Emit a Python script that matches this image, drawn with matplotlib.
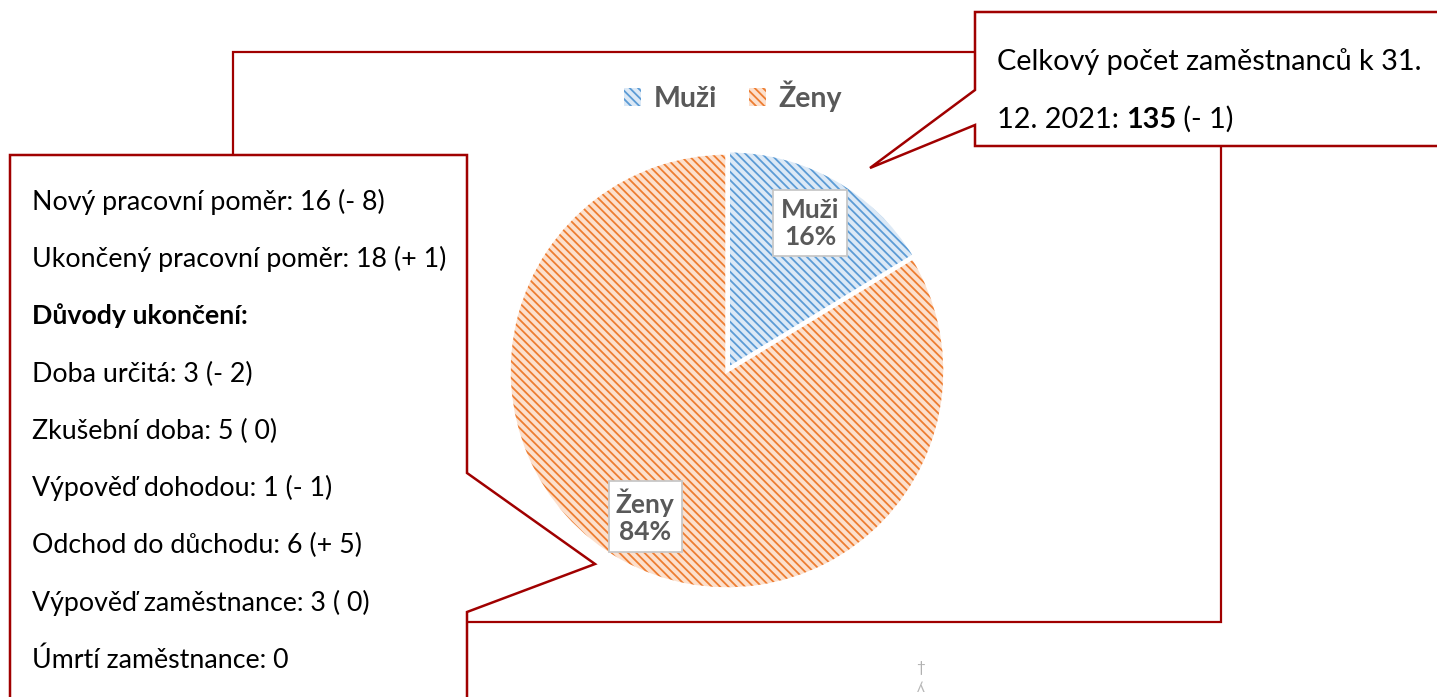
import matplotlib
matplotlib.use('Agg')
import matplotlib.pyplot as plt
from matplotlib.patches import Polygon, Patch, Rectangle
import numpy as np

# ---------------- data ----------------
categories = ['Muži', 'Ženy']
values = [22, 113]
fill_colors = ['#DCE9F6', '#FCE0CD']
hatch_colors = ['#5B9BD5', '#ED7D31']

left_lines = ['Nový pracovní poměr: 16 (- 8)',
              'Ukončený pracovní poměr: 18 (+ 1)',
              'Důvody ukončení:',
              'Doba určitá: 3 (- 2)',
              'Zkušební doba: 5 ( 0)',
              'Výpověď dohodou: 1 (- 1)',
              'Odchod do důchodu: 6 (+ 5)',
              'Výpověď zaměstnance: 3 ( 0)',
              'Úmrtí zaměstnance: 0']
left_bold = [False, False, True, False, False, False, False, False, False]

total_line1 = 'Celkový počet zaměstnanců k 31.'
total_prefix = '12. 2021: '
total_value = '135'
total_change = ' (- 1)'

# ---------------- style ----------------
FONT = 'Lato'
RED = '#A00000'
GRAY = '#595959'
HATCH = '\\\\\\\\'
plt.rcParams['font.family'] = [FONT, 'DejaVu Sans']
plt.rcParams['hatch.linewidth'] = 1.3

W, H = 1437, 697
fig = plt.figure(figsize=(W / 100, H / 100), dpi=100)
renderer = fig.canvas.get_renderer()


def fit(t, target_px):
    """scale font size of text t so its rendered width equals target_px"""
    for _ in range(3):
        w = t.get_window_extent(renderer).width
        t.set_fontsize(t.get_fontsize() * target_px / w)


# ---------------- pie ----------------
R = 218
cx, cy = 727, 371
pie_ax = fig.add_axes([(cx - R) / W, (H - cy - R) / H, 2 * R / W, 2 * R / H])
explode = [0.012, 0.0]
base, _ = pie_ax.pie(values, startangle=90, counterclock=False, colors=fill_colors,
                     explode=explode, wedgeprops=dict(linewidth=0))
hat, _ = pie_ax.pie(values, startangle=90, counterclock=False, explode=explode,
                    wedgeprops=dict(facecolor='none', linewidth=0, hatch=HATCH))
for w, hc in zip(hat, hatch_colors):
    w.set_edgecolor(hc)
    w.set_linewidth(0)
edges, _ = pie_ax.pie(values, startangle=90, counterclock=False, explode=explode,
                      wedgeprops=dict(facecolor='none', edgecolor='white', linewidth=2.5))
pie_ax.set_xlim(-1, 1)
pie_ax.set_ylim(-1, 1)
pie_ax.axis('off')

total = sum(values)
for w, cat, v in zip(base, categories, values):
    ang = np.deg2rad((w.theta1 + w.theta2) / 2)
    x0, y0 = w.center
    r = 0.765
    pie_ax.text(x0 + r * np.cos(ang), y0 + r * np.sin(ang),
                f'{cat}\n{100 * v / total:.0f}%', ha='center', va='center',
                fontsize=19, fontweight='bold', color=GRAY, linespacing=1.15,
                bbox=dict(boxstyle='square,pad=0.28', fc='white', ec='#C8C8C8', lw=1.3),
                zorder=10)

# ---------------- legend ----------------
handles = [Patch(facecolor=fc, edgecolor=hc, hatch=HATCH, linewidth=0)
           for fc, hc in zip(fill_colors, hatch_colors)]
fig.legend(handles, categories, loc='center', bbox_to_anchor=(733 / W, 1 - 96 / H),
           ncol=2, frameon=False, labelcolor=GRAY,
           prop=dict(family=FONT, weight='bold', size=20.5),
           handlelength=0.6, handleheight=0.6, handletextpad=0.45, columnspacing=1.1)

# ---------------- overlay (chart frame, callouts) ----------------
ov = fig.add_axes([0, 0, 1, 1])
ov.set_xlim(0, W)
ov.set_ylim(H, 0)
ov.axis('off')
ov.patch.set_alpha(0)

ov.add_patch(Rectangle((233, 52), 1221 - 233, 622 - 52, fill=False, ec=RED, lw=1.6))

left_poly = [(10, 155), (467, 155), (467, 473), (595, 564), (467, 612),
             (467, 740), (10, 740)]
ov.add_patch(Polygon(left_poly, closed=True, fc='white', ec=RED, lw=1.8, clip_on=False))

right_poly = [(975, 12), (1480, 12), (1480, 146), (975, 146), (975, 125),
              (870, 168), (975, 90)]
ov.add_patch(Polygon(right_poly, closed=True, fc='white', ec=RED, lw=1.8, clip_on=False))

# left box text
base_y = 210
step = 57.25
t0 = ov.text(32, base_y, left_lines[0], va='baseline', ha='left', color='black', fontsize=16)
fit(t0, 353)
fs_left = t0.get_fontsize()
for i, (line, b) in enumerate(zip(left_lines[1:], left_bold[1:]), start=1):
    ov.text(32, base_y + i * step, line, va='baseline', ha='left', color='black',
            fontsize=fs_left, fontweight='bold' if b else 'normal')

# right box text
t1 = ov.text(997, 70, total_line1, va='baseline', ha='left', color='black', fontsize=17)
fit(t1, 426)
fs_right = t1.get_fontsize()
p = ov.text(997, 128, total_prefix, va='baseline', ha='left', color='black', fontsize=fs_right)
b = ov.annotate(total_value, xy=(1, 0), xycoords=p, va='bottom', ha='left',
                color='black', fontsize=fs_right, fontweight='bold')
ov.annotate(total_change, xy=(1, 0), xycoords=b, va='bottom', ha='left',
            color='black', fontsize=fs_right)

# small faint glyph at the bottom
ov.text(921, 668, '†', ha='center', va='center', color='#B0B0B0', fontsize=11)
ov.text(921, 688, 'ʎ', ha='center', va='center', color='#B8B8B8', fontsize=11)

fig.savefig('out.png', dpi=100)
